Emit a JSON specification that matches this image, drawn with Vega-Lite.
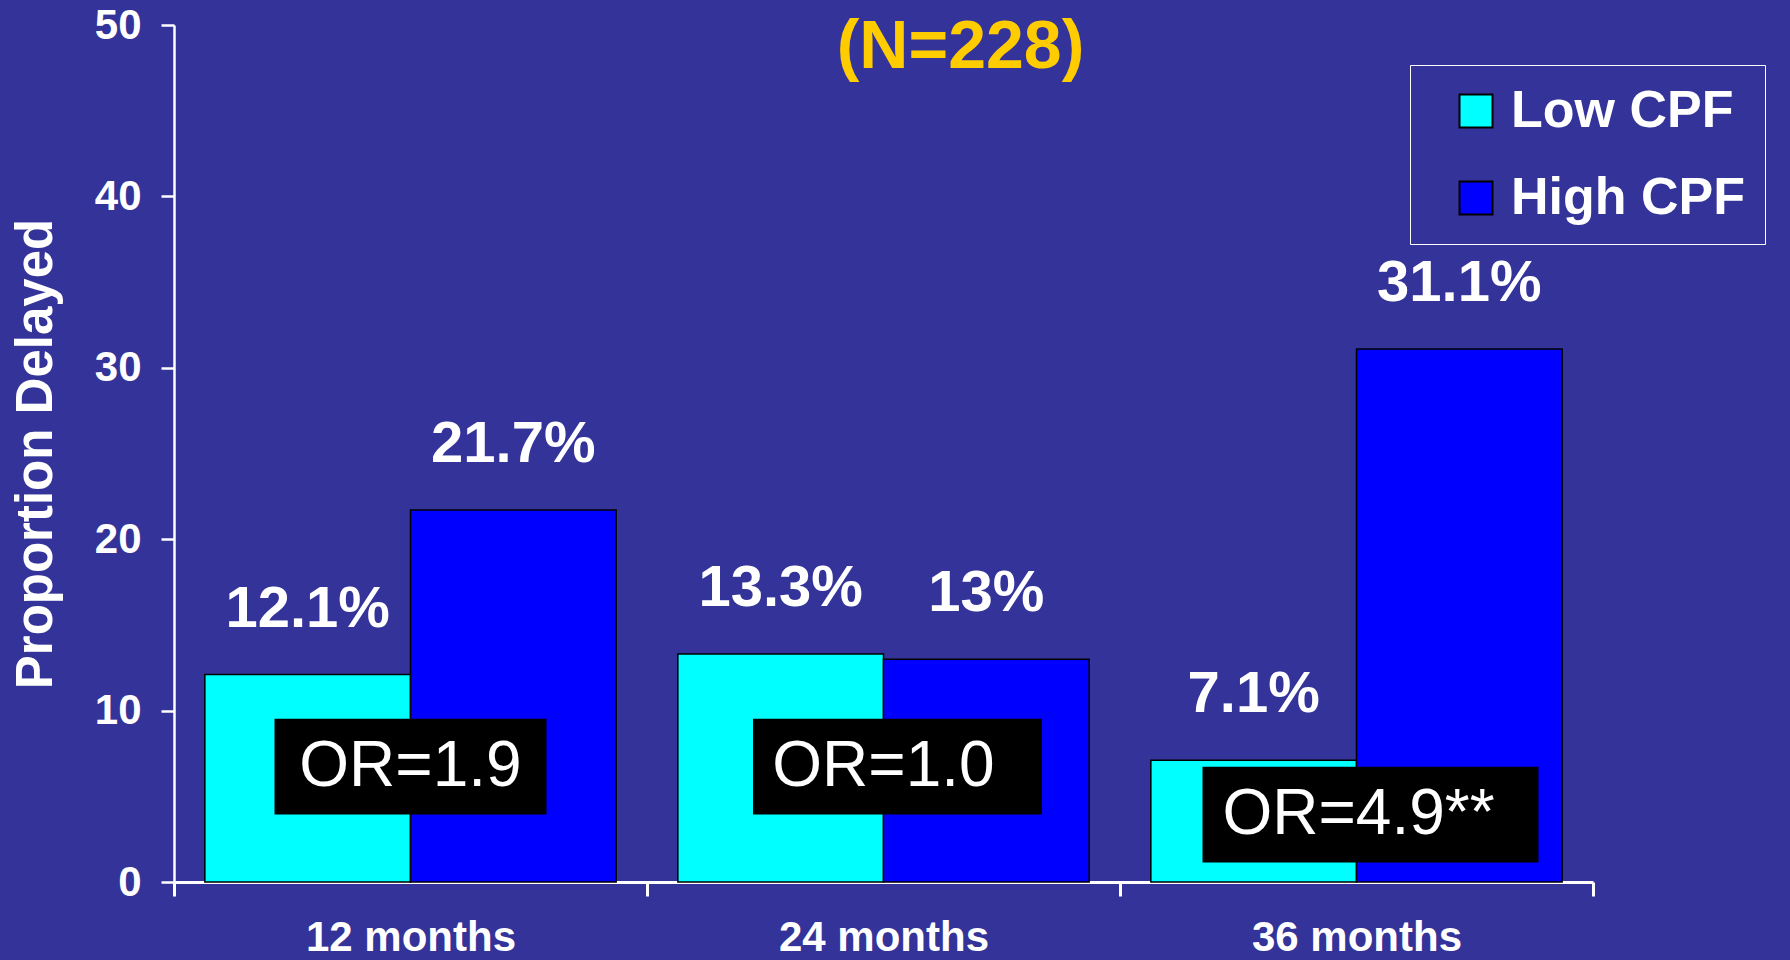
{
  "$schema": "https://vega.github.io/schema/vega-lite/v6.json",
  "autosize": {"type": "none"},
  "width": 1419,
  "height": 857,
  "padding": {"left": 174, "top": 25, "right": 197, "bottom": 78},
  "background": "#333399",
  "config": {"view": {"stroke": null}, "font": "Liberation Sans"},
  "title": {
    "text": "(N=228)",
    "color": "#FFCC00",
    "fontSize": 68,
    "fontWeight": "bold",
    "font": "Liberation Sans",
    "anchor": "middle",
    "frame": "group",
    "orient": "top",
    "baseline": "middle",
    "offset": 0,
    "dx": 77,
    "dy": 112
  },
  "datasets": {
    "bars": [
      {"month": "12 months", "group": "Low CPF", "value": 12.1, "label": "12.1%"},
      {"month": "12 months", "group": "High CPF", "value": 21.7, "label": "21.7%"},
      {"month": "24 months", "group": "Low CPF", "value": 13.3, "label": "13.3%"},
      {"month": "24 months", "group": "High CPF", "value": 13.0, "label": "13%"},
      {"month": "36 months", "group": "Low CPF", "value": 7.1, "label": "7.1%"},
      {"month": "36 months", "group": "High CPF", "value": 31.1, "label": "31.1%"}
    ],
    "or": [
      {"month": "12 months", "or": "OR=1.9"},
      {"month": "24 months", "or": "OR=1.0"},
      {"month": "36 months", "or": "OR=4.9**"}
    ]
  },
  "layer": [
    {
      "data": {"name": "bars"},
      "mark": {"type": "bar", "stroke": "black", "strokeWidth": 1.5},
      "encoding": {
        "x": {
          "field": "month", "type": "nominal",
          "sort": ["12 months", "24 months", "36 months"],
          "scale": {"paddingInner": 0, "paddingOuter": 0},
          "axis": {
            "title": null, "labelAngle": 0,
            "labelFontSize": 42, "labelFontWeight": "bold", "labelColor": "white", "labelFont": "Liberation Sans",
            "labelPadding": 21, "labelLimit": 500,
            "domainColor": "white", "domainWidth": 3,
            "tickColor": "white", "tickWidth": 3, "tickSize": 14,
            "tickBand": "extent"
          }
        },
        "xOffset": {
          "field": "group", "type": "nominal",
          "sort": ["Low CPF", "High CPF"],
          "scale": {"paddingOuter": 0.15, "paddingInner": 0}
        },
        "y": {
          "field": "value", "type": "quantitative",
          "scale": {"domain": [0, 50], "nice": false},
          "axis": {
            "title": "Proportion Delayed",
            "titleFontSize": 51, "titleFontWeight": "bold", "titleColor": "white", "titleFont": "Liberation Sans",
            "titlePadding": 32,
            "values": [0, 10, 20, 30, 40, 50],
            "grid": false,
            "labelFontSize": 42, "labelFontWeight": "bold", "labelColor": "white", "labelFont": "Liberation Sans",
            "labelPadding": 20,
            "domainColor": "white", "domainWidth": 2.5,
            "tickColor": "white", "tickWidth": 2.5, "tickSize": 13
          }
        },
        "color": {
          "field": "group", "type": "nominal",
          "scale": {"domain": ["Low CPF", "High CPF"], "range": ["#00FFFF", "#0000FF"]},
          "legend": {
            "orient": "none", "legendX": 1236, "legendY": 40,
            "title": null,
            "labelFontSize": 52, "labelFontWeight": "bold", "labelColor": "white", "labelFont": "Liberation Sans",
            "labelOffset": 9, "labelLimit": 500,
            "symbolType": "square", "symbolSize": 1089,
            "symbolStrokeColor": "black", "symbolStrokeWidth": 2, "symbolOpacity": 1,
            "strokeColor": "white",
            "padding": 20, "rowPadding": 35, "symbolOffset": 20
          }
        }
      }
    },
    {
      "data": {"name": "bars"},
      "mark": {"type": "text", "color": "white", "fontSize": 58, "fontWeight": "bold", "font": "Liberation Sans", "baseline": "alphabetic", "dy": -48},
      "encoding": {
        "x": {"field": "month", "type": "nominal", "sort": ["12 months", "24 months", "36 months"]},
        "xOffset": {"field": "group", "type": "nominal", "sort": ["Low CPF", "High CPF"]},
        "y": {"field": "value", "type": "quantitative"},
        "text": {"field": "label"}
      }
    },
    {
      "data": {"name": "or"},
      "transform": [{"filter": "datum.month == '12 months'"}],
      "mark": {"type": "bar", "color": "black", "width": 272},
      "encoding": {
        "x": {"field": "month", "type": "nominal", "sort": ["12 months", "24 months", "36 months"]},
        "y": {"datum": 9.53, "type": "quantitative"},
        "y2": {"datum": 3.94}
      }
    },
    {
      "data": {"name": "or"},
      "transform": [{"filter": "datum.month == '24 months'"}],
      "mark": {"type": "bar", "color": "black", "width": 289, "xOffset": 14},
      "encoding": {
        "x": {"field": "month", "type": "nominal", "sort": ["12 months", "24 months", "36 months"]},
        "y": {"datum": 9.53, "type": "quantitative"},
        "y2": {"datum": 3.94}
      }
    },
    {
      "data": {"name": "or"},
      "transform": [{"filter": "datum.month == '36 months'"}],
      "mark": {"type": "bar", "color": "black", "width": 336, "xOffset": 14},
      "encoding": {
        "x": {"field": "month", "type": "nominal", "sort": ["12 months", "24 months", "36 months"]},
        "y": {"datum": 6.73, "type": "quantitative"},
        "y2": {"datum": 1.14}
      }
    },
    {
      "data": {"name": "or"},
      "transform": [{"filter": "datum.month != '36 months'"}],
      "mark": {"type": "text", "color": "white", "fontSize": 64, "font": "Liberation Sans", "baseline": "middle"},
      "encoding": {
        "x": {"field": "month", "type": "nominal", "sort": ["12 months", "24 months", "36 months"]},
        "y": {"datum": 6.7, "type": "quantitative"},
        "text": {"field": "or"}
      }
    },
    {
      "data": {"name": "or"},
      "transform": [{"filter": "datum.month == '36 months'"}],
      "mark": {"type": "text", "color": "white", "fontSize": 64, "font": "Liberation Sans", "baseline": "middle", "dx": 2},
      "encoding": {
        "x": {"field": "month", "type": "nominal", "sort": ["12 months", "24 months", "36 months"]},
        "y": {"datum": 3.9, "type": "quantitative"},
        "text": {"field": "or"}
      }
    }
  ]
}
